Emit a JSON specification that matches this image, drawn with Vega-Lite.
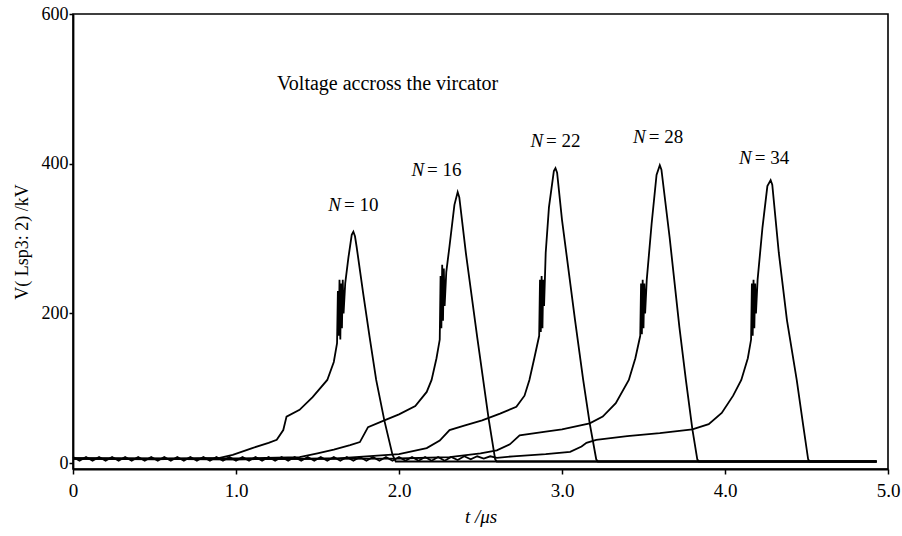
{
  "$schema": "https://vega.github.io/schema/vega-lite/v6.json",
  "width": 815,
  "height": 455,
  "autosize": {"type": "none"},
  "padding": {"left": 73, "top": 14, "right": 14, "bottom": 67},
  "background": "white",
  "config": {
    "view": {"stroke": "black", "strokeWidth": 1.6},
    "font": "Liberation Serif",
    "axis": {"domainColor": "black", "domainWidth": 1.8, "tickColor": "black", "tickWidth": 1.5, "labelColor": "black", "titleColor": "black", "grid": false, "labelFont": "Liberation Serif", "titleFont": "Liberation Serif", "titleFontWeight": "normal"}
  },
  "datasets": {
    "curves": [
      {"s": "10", "t": 0, "v": 6}, {"s": "10", "t": 0.5, "v": 5}, {"s": "10", "t": 0.9, "v": 7}, {"s": "10", "t": 0.98, "v": 11},
      {"s": "10", "t": 1.1, "v": 20}, {"s": "10", "t": 1.2, "v": 27}, {"s": "10", "t": 1.25, "v": 31}, {"s": "10", "t": 1.29, "v": 44},
      {"s": "10", "t": 1.31, "v": 62}, {"s": "10", "t": 1.39, "v": 71}, {"s": "10", "t": 1.47, "v": 88}, {"s": "10", "t": 1.56, "v": 111},
      {"s": "10", "t": 1.6, "v": 135}, {"s": "10", "t": 1.62, "v": 160}, {"s": "10", "t": 1.625, "v": 230}, {"s": "10", "t": 1.63, "v": 170},
      {"s": "10", "t": 1.635, "v": 245}, {"s": "10", "t": 1.64, "v": 165}, {"s": "10", "t": 1.645, "v": 240}, {"s": "10", "t": 1.65, "v": 180},
      {"s": "10", "t": 1.655, "v": 245}, {"s": "10", "t": 1.66, "v": 200}, {"s": "10", "t": 1.67, "v": 240}, {"s": "10", "t": 1.69, "v": 275},
      {"s": "10", "t": 1.71, "v": 305}, {"s": "10", "t": 1.72, "v": 309}, {"s": "10", "t": 1.73, "v": 303}, {"s": "10", "t": 1.74, "v": 289},
      {"s": "10", "t": 1.78, "v": 227}, {"s": "10", "t": 1.82, "v": 168}, {"s": "10", "t": 1.86, "v": 111}, {"s": "10", "t": 1.91, "v": 57},
      {"s": "10", "t": 1.96, "v": 11}, {"s": "10", "t": 1.98, "v": 2}, {"s": "10", "t": 4.93, "v": 2},

      {"s": "16", "t": 0, "v": 6}, {"s": "16", "t": 1.0, "v": 6}, {"s": "16", "t": 1.39, "v": 8}, {"s": "16", "t": 1.5, "v": 13},
      {"s": "16", "t": 1.6, "v": 18}, {"s": "16", "t": 1.7, "v": 24}, {"s": "16", "t": 1.76, "v": 28}, {"s": "16", "t": 1.79, "v": 40},
      {"s": "16", "t": 1.81, "v": 48}, {"s": "16", "t": 1.91, "v": 57}, {"s": "16", "t": 2.0, "v": 65}, {"s": "16", "t": 2.1, "v": 76},
      {"s": "16", "t": 2.17, "v": 95}, {"s": "16", "t": 2.2, "v": 111}, {"s": "16", "t": 2.23, "v": 140}, {"s": "16", "t": 2.25, "v": 165},
      {"s": "16", "t": 2.255, "v": 250}, {"s": "16", "t": 2.26, "v": 180}, {"s": "16", "t": 2.265, "v": 265}, {"s": "16", "t": 2.27, "v": 190},
      {"s": "16", "t": 2.275, "v": 260}, {"s": "16", "t": 2.28, "v": 210}, {"s": "16", "t": 2.29, "v": 255}, {"s": "16", "t": 2.31, "v": 290},
      {"s": "16", "t": 2.34, "v": 345}, {"s": "16", "t": 2.36, "v": 362}, {"s": "16", "t": 2.37, "v": 355}, {"s": "16", "t": 2.41, "v": 281},
      {"s": "16", "t": 2.48, "v": 168}, {"s": "16", "t": 2.55, "v": 59}, {"s": "16", "t": 2.59, "v": 5}, {"s": "16", "t": 2.6, "v": 2},
      {"s": "16", "t": 4.93, "v": 2},

      {"s": "22", "t": 0, "v": 6}, {"s": "22", "t": 1.0, "v": 5}, {"s": "22", "t": 1.6, "v": 6}, {"s": "22", "t": 2.0, "v": 12},
      {"s": "22", "t": 2.17, "v": 20}, {"s": "22", "t": 2.25, "v": 30}, {"s": "22", "t": 2.31, "v": 44}, {"s": "22", "t": 2.4, "v": 50},
      {"s": "22", "t": 2.51, "v": 57}, {"s": "22", "t": 2.62, "v": 66}, {"s": "22", "t": 2.72, "v": 75}, {"s": "22", "t": 2.77, "v": 90},
      {"s": "22", "t": 2.8, "v": 111}, {"s": "22", "t": 2.83, "v": 140}, {"s": "22", "t": 2.86, "v": 170}, {"s": "22", "t": 2.865, "v": 245},
      {"s": "22", "t": 2.87, "v": 175}, {"s": "22", "t": 2.875, "v": 250}, {"s": "22", "t": 2.88, "v": 180}, {"s": "22", "t": 2.885, "v": 245},
      {"s": "22", "t": 2.89, "v": 210}, {"s": "22", "t": 2.9, "v": 281}, {"s": "22", "t": 2.92, "v": 342}, {"s": "22", "t": 2.95, "v": 390},
      {"s": "22", "t": 2.96, "v": 394}, {"s": "22", "t": 2.97, "v": 388}, {"s": "22", "t": 3.0, "v": 325}, {"s": "22", "t": 3.08, "v": 191},
      {"s": "22", "t": 3.13, "v": 111}, {"s": "22", "t": 3.17, "v": 53}, {"s": "22", "t": 3.21, "v": 5}, {"s": "22", "t": 3.22, "v": 2},
      {"s": "22", "t": 4.93, "v": 2},

      {"s": "28", "t": 0, "v": 6}, {"s": "28", "t": 1.0, "v": 5}, {"s": "28", "t": 2.0, "v": 6}, {"s": "28", "t": 2.31, "v": 8},
      {"s": "28", "t": 2.5, "v": 13}, {"s": "28", "t": 2.6, "v": 17}, {"s": "28", "t": 2.68, "v": 25}, {"s": "28", "t": 2.74, "v": 37},
      {"s": "28", "t": 2.9, "v": 42}, {"s": "28", "t": 3.0, "v": 45}, {"s": "28", "t": 3.17, "v": 53}, {"s": "28", "t": 3.25, "v": 62},
      {"s": "28", "t": 3.33, "v": 80}, {"s": "28", "t": 3.41, "v": 111}, {"s": "28", "t": 3.45, "v": 140}, {"s": "28", "t": 3.48, "v": 170},
      {"s": "28", "t": 3.485, "v": 240}, {"s": "28", "t": 3.49, "v": 172}, {"s": "28", "t": 3.495, "v": 245}, {"s": "28", "t": 3.5, "v": 180},
      {"s": "28", "t": 3.505, "v": 240}, {"s": "28", "t": 3.51, "v": 200}, {"s": "28", "t": 3.52, "v": 245}, {"s": "28", "t": 3.55, "v": 320},
      {"s": "28", "t": 3.58, "v": 385}, {"s": "28", "t": 3.6, "v": 398}, {"s": "28", "t": 3.61, "v": 392}, {"s": "28", "t": 3.66, "v": 302},
      {"s": "28", "t": 3.72, "v": 182}, {"s": "28", "t": 3.76, "v": 111}, {"s": "28", "t": 3.8, "v": 45}, {"s": "28", "t": 3.83, "v": 5},
      {"s": "28", "t": 3.84, "v": 2}, {"s": "28", "t": 4.93, "v": 2},

      {"s": "34", "t": 0, "v": 8}, {"s": "34", "t": 0.04, "v": 3}, {"s": "34", "t": 0.08, "v": 8}, {"s": "34", "t": 0.12, "v": 3},
      {"s": "34", "t": 0.16, "v": 8}, {"s": "34", "t": 0.2, "v": 3}, {"s": "34", "t": 0.24, "v": 8}, {"s": "34", "t": 0.28, "v": 3},
      {"s": "34", "t": 0.32, "v": 8}, {"s": "34", "t": 0.36, "v": 3}, {"s": "34", "t": 0.4, "v": 8}, {"s": "34", "t": 0.44, "v": 3},
      {"s": "34", "t": 0.48, "v": 8}, {"s": "34", "t": 0.52, "v": 3}, {"s": "34", "t": 0.56, "v": 8}, {"s": "34", "t": 0.6, "v": 3},
      {"s": "34", "t": 0.64, "v": 8}, {"s": "34", "t": 0.68, "v": 3}, {"s": "34", "t": 0.72, "v": 8}, {"s": "34", "t": 0.76, "v": 3},
      {"s": "34", "t": 0.8, "v": 8}, {"s": "34", "t": 0.84, "v": 3}, {"s": "34", "t": 0.88, "v": 8}, {"s": "34", "t": 0.92, "v": 3},
      {"s": "34", "t": 0.96, "v": 8}, {"s": "34", "t": 1.0, "v": 3}, {"s": "34", "t": 1.04, "v": 8}, {"s": "34", "t": 1.08, "v": 3},
      {"s": "34", "t": 1.12, "v": 8}, {"s": "34", "t": 1.16, "v": 3}, {"s": "34", "t": 1.2, "v": 8}, {"s": "34", "t": 1.24, "v": 3},
      {"s": "34", "t": 1.28, "v": 8}, {"s": "34", "t": 1.32, "v": 3}, {"s": "34", "t": 1.36, "v": 8}, {"s": "34", "t": 1.4, "v": 3},
      {"s": "34", "t": 1.44, "v": 8}, {"s": "34", "t": 1.48, "v": 3}, {"s": "34", "t": 1.52, "v": 8}, {"s": "34", "t": 1.56, "v": 3},
      {"s": "34", "t": 1.6, "v": 8}, {"s": "34", "t": 1.64, "v": 3}, {"s": "34", "t": 1.68, "v": 8}, {"s": "34", "t": 1.72, "v": 3},
      {"s": "34", "t": 1.76, "v": 8}, {"s": "34", "t": 1.8, "v": 3}, {"s": "34", "t": 1.84, "v": 8}, {"s": "34", "t": 1.88, "v": 3},
      {"s": "34", "t": 1.92, "v": 8}, {"s": "34", "t": 1.96, "v": 3}, {"s": "34", "t": 2.0, "v": 8}, {"s": "34", "t": 2.04, "v": 3},
      {"s": "34", "t": 2.08, "v": 8}, {"s": "34", "t": 2.12, "v": 3}, {"s": "34", "t": 2.16, "v": 8}, {"s": "34", "t": 2.2, "v": 3},
      {"s": "34", "t": 2.24, "v": 8}, {"s": "34", "t": 2.28, "v": 3}, {"s": "34", "t": 2.32, "v": 8}, {"s": "34", "t": 2.36, "v": 4},
      {"s": "34", "t": 2.4, "v": 9}, {"s": "34", "t": 2.44, "v": 5}, {"s": "34", "t": 2.48, "v": 9}, {"s": "34", "t": 2.52, "v": 6},
      {"s": "34", "t": 2.56, "v": 9}, {"s": "34", "t": 2.6, "v": 7}, {"s": "34", "t": 2.7, "v": 9}, {"s": "34", "t": 2.9, "v": 12},
      {"s": "34", "t": 3.05, "v": 15}, {"s": "34", "t": 3.12, "v": 22}, {"s": "34", "t": 3.15, "v": 27}, {"s": "34", "t": 3.21, "v": 31},
      {"s": "34", "t": 3.4, "v": 36}, {"s": "34", "t": 3.6, "v": 40}, {"s": "34", "t": 3.8, "v": 45}, {"s": "34", "t": 3.9, "v": 52},
      {"s": "34", "t": 3.98, "v": 67}, {"s": "34", "t": 4.05, "v": 90}, {"s": "34", "t": 4.1, "v": 111}, {"s": "34", "t": 4.14, "v": 140},
      {"s": "34", "t": 4.16, "v": 165}, {"s": "34", "t": 4.165, "v": 240}, {"s": "34", "t": 4.17, "v": 170}, {"s": "34", "t": 4.175, "v": 245},
      {"s": "34", "t": 4.18, "v": 180}, {"s": "34", "t": 4.185, "v": 240}, {"s": "34", "t": 4.19, "v": 200}, {"s": "34", "t": 4.2, "v": 245},
      {"s": "34", "t": 4.23, "v": 315}, {"s": "34", "t": 4.26, "v": 370}, {"s": "34", "t": 4.28, "v": 378}, {"s": "34", "t": 4.29, "v": 372},
      {"s": "34", "t": 4.33, "v": 281}, {"s": "34", "t": 4.38, "v": 191}, {"s": "34", "t": 4.44, "v": 111}, {"s": "34", "t": 4.48, "v": 50},
      {"s": "34", "t": 4.51, "v": 5}, {"s": "34", "t": 4.52, "v": 2}, {"s": "34", "t": 4.93, "v": 2}
    ],
    "labels": [
      {"t": 1.73, "v": 345, "rest": "= 10"},
      {"t": 2.24, "v": 392, "rest": "= 16"},
      {"t": 2.97, "v": 430, "rest": "= 22"},
      {"t": 3.6, "v": 436, "rest": "= 28"},
      {"t": 4.25, "v": 408, "rest": "= 34"}
    ],
    "note": [
      {"t": 1.93, "v": 506, "label": "Voltage accross the vircator"}
    ]
  },
  "layer": [
    {
      "data": {"name": "curves"},
      "mark": {"type": "line", "color": "black", "strokeWidth": 1.8},
      "encoding": {
        "x": {"field": "t", "type": "quantitative", "scale": {"domain": [0, 5], "nice": false},
          "axis": {"values": [0, 1, 2, 3, 4, 5], "labelExpr": "datum.value == 0 ? '0' : format(datum.value, '.1f')", "title": "t /μs", "titleFontStyle": "italic", "titleFontSize": 19, "labelFontSize": 19, "tickSize": 5, "labelPadding": 7, "titlePadding": 7, "labelFlush": false}},
        "y": {"field": "v", "type": "quantitative", "scale": {"domain": [-8, 600], "nice": false, "zero": false},
          "axis": {"values": [0, 200, 400, 600], "title": "V( Lsp3: 2) /kV", "titleFontSize": 18, "labelFontSize": 18, "tickSize": 4, "labelPadding": 1, "titlePadding": 10}},
        "detail": {"field": "s"}
      }
    },
    {
      "data": {"name": "labels"},
      "mark": {"type": "text", "fontStyle": "italic", "align": "right", "dx": -14, "fontSize": 19, "font": "Liberation Serif", "color": "black"},
      "encoding": {
        "x": {"field": "t", "type": "quantitative"},
        "y": {"field": "v", "type": "quantitative"},
        "text": {"value": "N"}
      }
    },
    {
      "data": {"name": "labels"},
      "mark": {"type": "text", "align": "left", "dx": -11, "fontSize": 19, "font": "Liberation Serif", "color": "black"},
      "encoding": {
        "x": {"field": "t", "type": "quantitative"},
        "y": {"field": "v", "type": "quantitative"},
        "text": {"field": "rest"}
      }
    },
    {
      "data": {"name": "note"},
      "mark": {"type": "text", "align": "center", "fontSize": 20, "font": "Liberation Serif", "color": "black"},
      "encoding": {
        "x": {"field": "t", "type": "quantitative"},
        "y": {"field": "v", "type": "quantitative"},
        "text": {"field": "label"}
      }
    }
  ]
}
